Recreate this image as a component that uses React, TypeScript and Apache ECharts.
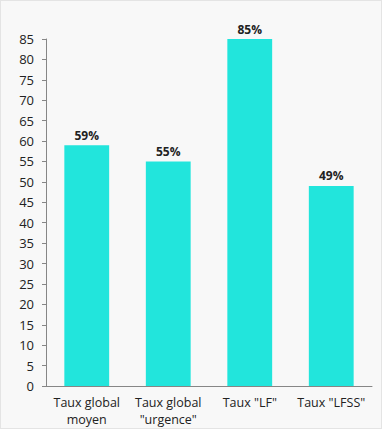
import React, { useEffect, useRef } from "react";
import * as echarts from "echarts";

const categories = ["Taux global\nmoyen", "Taux global\n\"urgence\"", "Taux \"LF\"", "Taux \"LFSS\""];
const values = [59, 55, 85, 49];

export default function App() {
  const ref = useRef<HTMLDivElement>(null);
  useEffect(() => {
    document.body.style.margin = "0";
    const chart = echarts.init(ref.current!, undefined, { renderer: "svg" });
    chart.setOption({
      animation: false,
      backgroundColor: "#f8f8f8",
      grid: { left: 45, right: 9, top: 38, bottom: 39 },
      xAxis: {
        type: "category",
        data: categories,
        axisTick: { show: false },
        axisLine: { lineStyle: { color: "#868686", width: 1 } },
        axisLabel: { color: "#222", fontSize: 12.5, fontFamily: "Open Sans", lineHeight: 17, margin: 8, interval: 0 },
      },
      yAxis: {
        type: "value",
        min: 0,
        max: 85,
        interval: 5,
        splitLine: { show: false },
        axisLine: { show: true, lineStyle: { color: "#868686", width: 1 } },
        axisTick: { show: true, length: 4, lineStyle: { color: "#868686" } },
        axisLabel: { color: "#222", fontSize: 13, fontFamily: "Open Sans", margin: 12 },
      },
      series: [
        {
          type: "bar",
          data: values,
          barWidth: "55%",
          itemStyle: { color: "#22e5dc" },
          label: {
            show: true,
            position: "top",
            formatter: "{c}%",
            color: "#222",
            fontWeight: "bold",
            fontSize: 12,
            fontFamily: "Open Sans",
            distance: 4,
          },
        },
      ],
    });
    return () => chart.dispose();
  }, []);
  return <div ref={ref} style={{ width: 382, height: 429, boxSizing: "border-box", border: "1px solid #e4e4e4" }} />;
}
